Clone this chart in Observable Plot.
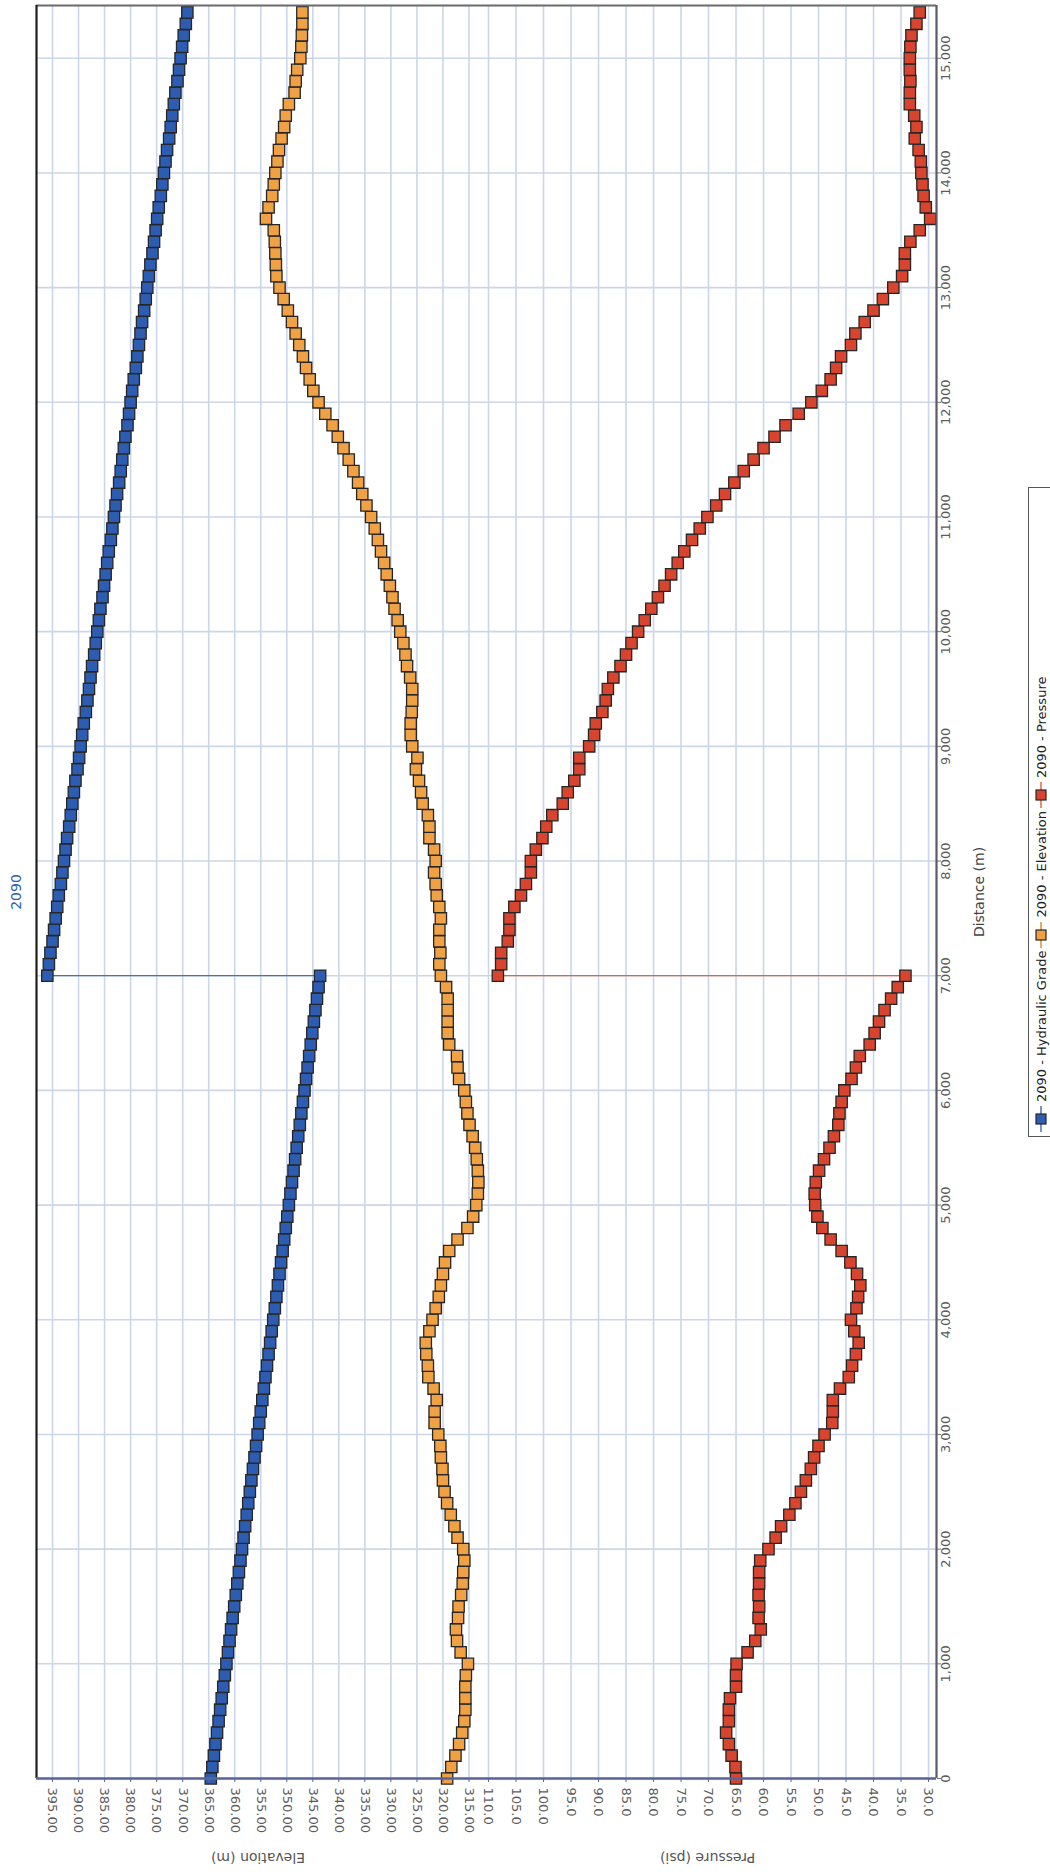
<!DOCTYPE html>
<html><head><meta charset="utf-8">
<script src="https://cdn.jsdelivr.net/npm/d3@7"></script>
<script src="https://cdn.jsdelivr.net/npm/@observablehq/plot@0.6"></script>
<style>
html,body{margin:0;padding:0;background:#fff;overflow:hidden}
#wrap{position:relative;width:1050px;height:1874px;overflow:hidden;font-family:"DejaVu Sans",Verdana,sans-serif}
#wrap svg.plot-panel{position:absolute;top:0;overflow:visible}
.lbl{position:absolute;white-space:nowrap;color:#555;font-size:14px;line-height:16px}
.lgitem{display:inline-flex;align-items:center;margin-right:3px}
.lgitem svg{flex:none;margin-right:4px}
</style></head><body><div id="wrap"></div>
<script>
// ---- data (distance in m, read every 100 m) ----
const distA = [0,100,200,300,400,500,600,700,800,900,1000,1100,1200,1300,1400,1500,1600,1700,1800,1900,2000,2100,2200,2300,2400,2500,2600,2700,2800,2900,3000,3100,3200,3300,3400,3500,3600,3700,3800,3900,4000,4100,4200,4300,4400,4500,4600,4700,4800,4900,5000,5100,5200,5300,5400,5500,5600,5700,5800,5900,6000,6100,6200,6300,6400,6500,6600,6700,6800,6900,7000];
const distB = [7000,7100,7200,7300,7400,7500,7600,7700,7800,7900,8000,8100,8200,8300,8400,8500,8600,8700,8800,8900,9000,9100,9200,9300,9400,9500,9600,9700,9800,9900,10000,10100,10200,10300,10400,10500,10600,10700,10800,10900,11000,11100,11200,11300,11400,11500,11600,11700,11800,11900,12000,12100,12200,12300,12400,12500,12600,12700,12800,12900,13000,13100,13200,13300,13400,13500,13600,13700,13800,13900,14000,14100,14200,14300,14400,14500,14600,14700,14800,14900,15000,15100,15200,15300,15400];

const hglA = [364.6,364.3,364.0,363.7,363.4,363.1,362.8,362.5,362.2,361.9,361.6,361.3,361.0,360.7,360.4,360.1,359.8,359.5,359.2,358.9,358.6,358.3,358.0,357.7,357.4,357.1,356.8,356.5,356.2,355.9,355.6,355.3,355.0,354.7,354.4,354.1,353.8,353.5,353.2,352.9,352.6,352.3,352.0,351.7,351.4,351.1,350.8,350.5,350.2,349.9,349.6,349.3,349.0,348.7,348.4,348.1,347.8,347.5,347.2,346.9,346.6,346.3,346.0,345.7,345.4,345.1,344.8,344.5,344.2,343.9,343.6];
const hglB = [396.0,395.7,395.4,395.0,394.7,394.4,394.1,393.8,393.4,393.1,392.8,392.5,392.2,391.8,391.5,391.2,390.9,390.6,390.2,389.9,389.6,389.3,389.0,388.6,388.3,388.0,387.7,387.4,387.0,386.7,386.4,386.1,385.8,385.4,385.1,384.8,384.5,384.2,383.8,383.5,383.2,382.9,382.6,382.2,381.9,381.6,381.3,381.0,380.6,380.3,380.0,379.7,379.4,379.0,378.7,378.4,378.1,377.8,377.4,377.1,376.8,376.5,376.2,375.8,375.5,375.2,374.9,374.6,374.2,373.9,373.6,373.3,373.0,372.6,372.3,372.0,371.7,371.4,371.0,370.7,370.4,370.1,369.8,369.4,369.1];

// elevation along 0..15400
const elevation = [319.2,318.4,317.6,316.9,316.3,315.9,315.7,315.7,315.7,315.6,
315.2,316.6,317.3,317.5,317.1,317.0,316.5,316.2,316.1,315.9,
316.1,317.2,317.8,318.5,319.2,319.7,320.0,320.1,320.4,320.5,
320.9,321.6,321.6,321.2,321.8,322.8,322.9,323.2,323.3,322.6,
322.0,321.4,320.8,320.4,320.0,319.6,318.8,317.2,315.3,314.2,
313.6,313.3,313.2,313.3,313.5,313.8,314.3,314.9,315.3,315.6,
315.9,316.9,317.2,317.3,318.8,319.1,319.1,319.1,319.1,319.4,
320.4,320.7,320.5,320.7,320.7,320.4,320.7,321.2,321.4,321.7,
321.4,321.7,322.6,322.6,322.9,323.9,324.2,324.6,325.2,324.9,
325.9,326.2,326.2,326.0,325.9,325.9,326.3,326.9,327.2,327.6,
328.2,328.7,329.3,329.7,330.2,330.8,331.3,331.9,332.5,333.1,
333.8,334.7,335.5,336.3,337.2,338.1,339.1,340.2,341.2,342.6,
343.9,344.9,345.6,346.3,346.9,347.6,348.3,349.0,349.8,350.6,
351.4,352.0,352.1,352.2,352.3,352.5,354.0,353.5,352.8,352.5,
352.2,351.8,351.5,351.0,350.5,350.2,349.6,348.5,348.3,348.0,
347.4,347.2,347.1,347.0,347.0];

const pressureA = [65.0,65.1,65.8,66.3,66.8,66.3,66.3,66.1,65.0,65.0,
64.9,62.9,61.5,60.5,60.9,60.8,60.9,60.8,60.8,60.6,
59.1,57.8,56.8,55.3,54.2,53.2,52.3,51.4,50.8,50.0,
48.9,47.5,47.4,47.4,46.1,44.5,43.9,43.2,42.7,43.5,
44.1,43.1,42.8,42.4,43.0,44.2,45.8,47.8,49.3,50.2,
50.6,50.7,50.5,49.9,49.0,48.0,47.2,46.4,46.2,45.8,
45.3,44.0,43.2,42.5,40.7,39.8,39.0,38.0,36.8,35.6,
34.2];
const pressureB = [108.3,107.7,107.7,106.5,106.2,106.2,105.3,104.1,103.2,102.3,
102.3,101.4,100.2,99.5,98.4,96.5,95.6,94.4,93.5,93.5,
91.7,90.8,90.5,89.3,88.7,88.3,87.3,86.0,85.0,84.0,
82.8,81.6,80.4,79.2,78.0,76.8,75.6,74.4,73.0,71.6,
70.2,68.6,67.0,65.3,63.6,61.8,60.0,58.0,56.0,53.6,
51.3,49.4,47.8,46.8,45.9,44.1,43.3,41.6,40.0,38.3,
36.4,34.8,34.3,34.3,33.3,31.6,29.7,30.5,30.9,31.1,
31.3,31.4,31.8,32.5,32.2,32.6,33.4,33.4,33.3,33.4,
33.4,33.3,33.1,32.2,31.6];

// ---- tick labels ----
const elevTicks = [395,390,385,380,375,370,365,360,355,350,345,340,335,330,325,320,315];
const pressTicks = [110,105,100,95,90,85,80,75,70,65,60,55,50,45,40,35,30];
const distTicks = [0,1000,2000,3000,4000,5000,6000,7000,8000,9000,10000,11000,12000,13000,14000,15000];

const seriesNames = ["2090 - Hydraulic Grade", "2090 - Elevation", "2090 - Pressure"];
const seriesFill = ["#2d5db3", "#f0a143", "#d9442e"];
const seriesLine = ["#4a6fb8", "#d9903a", "#e8643a"];
const titleText = "2090";
const elevLabel = "Elevation (m)";
const pressLabel = "Pressure (psi)";
const distLabel = "Distance (m)";

// ---- scale domains ----
const elevDomain = [398.08, 312.98];
const pressDomain = [111.64, 28.55];
const distDomain = [0, 15460];

const distAll = distA.concat(distB.slice(1));
const hglPts = distA.map((d, i) => ({d, v: hglA[i]})).concat(distB.map((d, i) => ({d, v: hglB[i]})));
const elevPts = distAll.map((d, i) => ({d, v: elevation[i]}));
const pressPts = distA.map((d, i) => ({d, v: pressureA[i]})).concat(distB.map((d, i) => ({d, v: pressureB[i]})));

const H = 1874;
const grid = "#cbd6e8";
const axisBlue = "#56669a";
const common = {
  height: H, marginTop: 5, marginBottom: H - 1778,
  className: "plot-panel",
  style: {fontFamily: "DejaVu Sans, Verdana, sans-serif", fontSize: "13px", color: "#5c5c5c", background: "transparent", overflow: "visible"}
};
const dotOpts = {x: "v", y: "d", symbol: "square", r: 6.4, stroke: "#262626", strokeWidth: 1.3};

const panelA = Plot.plot({
  ...common, width: 479, marginLeft: 36, marginRight: 0,
  x: {domain: elevDomain},
  y: {domain: distDomain, axis: null},
  marks: [
    Plot.ruleX(elevTicks, {stroke: grid, strokeWidth: 1.6}),
    Plot.ruleY(distTicks, {stroke: grid, strokeWidth: 1.6}),
    Plot.line(hglPts, {x: "v", y: "d", stroke: seriesLine[0], strokeWidth: 1.3}),
    Plot.line(elevPts, {x: "v", y: "d", stroke: seriesLine[1], strokeWidth: 1.3}),
    Plot.dot(elevPts, {...dotOpts, fill: seriesFill[1]}),
    Plot.dot(hglPts, {...dotOpts, fill: seriesFill[0]}),
    Plot.axisX(elevTicks, {anchor: "bottom", tickFormat: d3.format(".2f"), tickRotate: 90, tickSize: 4, tickPadding: 5, label: null, stroke: axisBlue}),
    Plot.ruleY([distDomain[1]], {stroke: "#6a6a6a", strokeWidth: 2}),
    Plot.ruleX([elevDomain[0]], {stroke: "#1e1e1e", strokeWidth: 2.2}),
    Plot.ruleY([0], {stroke: axisBlue, strokeWidth: 2.6})
  ]
});

const panelB = Plot.plot({
  ...common, width: 571, marginLeft: 0, marginRight: 114,
  x: {domain: pressDomain},
  y: {domain: distDomain},
  marks: [
    Plot.ruleX(pressTicks, {stroke: grid, strokeWidth: 1.6}),
    Plot.ruleY(distTicks, {stroke: grid, strokeWidth: 1.6}),
    Plot.line(pressPts, {x: "v", y: "d", stroke: seriesLine[2], strokeWidth: 1.3}),
    Plot.dot(pressPts, {...dotOpts, fill: seriesFill[2]}),
    Plot.axisX(pressTicks, {anchor: "bottom", tickFormat: d3.format(".1f"), tickRotate: 90, tickSize: 4, tickPadding: 5, label: null, stroke: axisBlue}),
    Plot.axisY(distTicks, {anchor: "right", tickFormat: d3.format(","), tickRotate: -90, tickSize: 4, tickPadding: 9, label: null, stroke: "#777"}),
    Plot.ruleY([distDomain[1]], {stroke: "#6a6a6a", strokeWidth: 2}),
    Plot.ruleX([pressDomain[1]], {stroke: "#5a5a6a", strokeWidth: 2.2}),
    Plot.ruleY([0], {stroke: axisBlue, strokeWidth: 2.6})
  ]
});

const wrap = document.getElementById("wrap");
panelB.style.left = "479px"; panelB.style.zIndex = 1;
panelA.style.left = "0px"; panelA.style.zIndex = 2;
wrap.appendChild(panelB);
wrap.appendChild(panelA);

function label(text, cx, cy, rot, extra) {
  const s = document.createElement("div");
  s.className = "lbl";
  s.textContent = text;
  wrap.appendChild(s);
  const w = s.offsetWidth, h = s.offsetHeight;
  s.style.left = (cx - w / 2) + "px";
  s.style.top = (cy - h / 2) + "px";
  s.style.transform = `rotate(${rot}deg)`;
  s.style.zIndex = 5;
  if (extra) Object.assign(s.style, extra);
  return s;
}
label(elevLabel, 258, 1858, 180);
label(pressLabel, 707, 1858, 180);
label(distLabel, 979, 892, -90, {color: "#444"});
label(titleText, 16, 892, -90, {color: "#2a62b0"});

// legend (rotated)
const LW = 650, LH = 26;
const lg = document.createElement("div");
lg.style.cssText = `position:absolute;left:${1041 - LW / 2}px;top:${812 - LH / 2}px;width:${LW}px;height:${LH}px;transform:rotate(-90deg);border:1px solid #555;box-sizing:border-box;background:#fff;display:flex;align-items:center;padding-left:4px;font-size:13px;color:#222;z-index:5;white-space:nowrap;font-family:"DejaVu Sans",Verdana,sans-serif`;
seriesNames.forEach((n, i) => {
  const item = document.createElement("span");
  item.className = "lgitem";
  item.innerHTML = `<svg width="26" height="14" viewBox="0 0 26 14"><line x1="0" y1="7" x2="26" y2="7" stroke="${seriesLine[i]}" stroke-width="1.5"/><rect x="8" y="2" width="10" height="10" fill="${seriesFill[i]}" stroke="#262626" stroke-width="1.2"/></svg><span>${n}</span>`;
  lg.appendChild(item);
});
wrap.appendChild(lg);
</script></body></html>
